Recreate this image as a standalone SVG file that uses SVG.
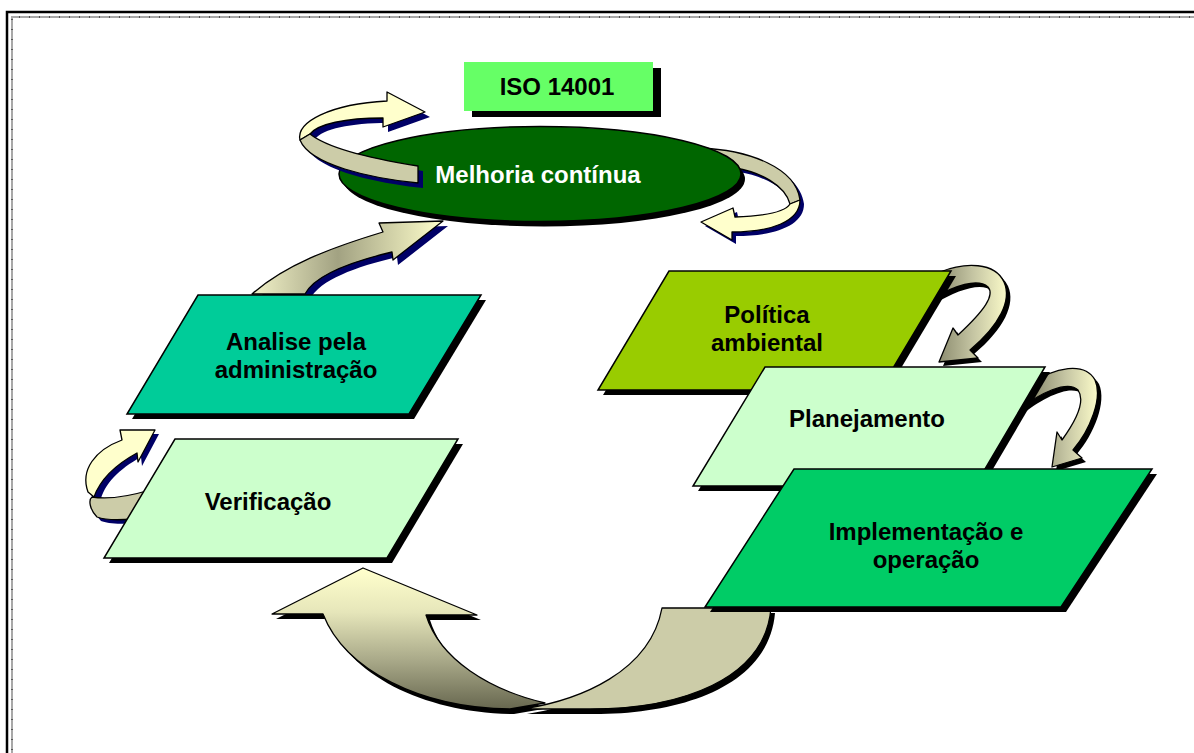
<svg xmlns="http://www.w3.org/2000/svg" width="1194" height="753" viewBox="0 0 1194 753">
  <defs>
    <style>
      .lbl { font-family: "Liberation Sans", Arial, sans-serif; font-weight: bold; font-size: 24px; text-anchor: middle; fill: #000; }
      .lbl-w { fill: #fff; }
      .box { stroke: #000; stroke-width: 1.5; stroke-linejoin: miter; }
      .shadow { fill: #000; }
      .navy { fill: #000066; }
      .edge { stroke: #000; stroke-width: 1.3; stroke-linejoin: round; }
      .tan { fill: #CCCCA8; }
      .cream { fill: #FFFFCC; }
    </style>
    <linearGradient id="gArrowUp" gradientUnits="userSpaceOnUse" x1="252" y1="0" x2="443" y2="0">
      <stop offset="0" stop-color="#F2F2C8"/>
      <stop offset="0.45" stop-color="#A2A282"/>
      <stop offset="1" stop-color="#FFFFCC"/>
    </linearGradient>
    <linearGradient id="gCurl1" gradientUnits="userSpaceOnUse" x1="935" y1="0" x2="1010" y2="0">
      <stop offset="0" stop-color="#86866A"/>
      <stop offset="0.5" stop-color="#C4C4A2"/>
      <stop offset="1" stop-color="#FFFFCC"/>
    </linearGradient>
    <linearGradient id="gCurl2" gradientUnits="userSpaceOnUse" x1="1030" y1="0" x2="1100" y2="0">
      <stop offset="0" stop-color="#86866A"/>
      <stop offset="0.5" stop-color="#C4C4A2"/>
      <stop offset="1" stop-color="#FFFFCC"/>
    </linearGradient>
    <linearGradient id="gReturn" gradientUnits="userSpaceOnUse" x1="0" y1="570" x2="0" y2="710">
      <stop offset="0" stop-color="#FFFFCC"/>
      <stop offset="0.3" stop-color="#E6E6BA"/>
      <stop offset="0.65" stop-color="#A8A888"/>
      <stop offset="1" stop-color="#66664E"/>
    </linearGradient>
  </defs>

  <rect x="0" y="0" width="1194" height="753" fill="#fff"/>

  <!-- page frame -->
  <g id="frame" fill="none">
    <path d="M7,760 V12 H1200" stroke="#000" stroke-width="2.5"/>
    <path d="M12,760 V17 H1200" stroke="#A8A8A8" stroke-width="2"/>
    <path d="M12,760 V17 H1200" stroke="#555" stroke-width="2" stroke-dasharray="1 9"/>
  </g>

  <g id="connectors">
    <!-- loop behind the ellipse, right side -->
    <g id="loop-right">
      <path class="navy" transform="translate(4,4)" d="M700,148 C750,150 796,168 800,200 C800,222 770,232 732,232 L732,240 L701,222 L733,208 L735,217 C765,216 785,212 790,204 C785,185 760,172 735,168 Z"/>
      <path class="tan edge" d="M700,148 C750,150 796,168 800,200 L790,204 C785,185 760,172 735,168 Z"/>
      <path class="cream edge" d="M790,204 C785,212 765,216 735,217 L733,208 L701,222 L732,240 L732,232 C770,232 800,222 800,200 Z"/>
    </g>
  </g>

  <!-- Melhoria contínua -->
  <g id="node-melhoria">
    <ellipse cx="544" cy="179" rx="201" ry="47.5" class="shadow"/>
    <ellipse cx="540" cy="174" rx="201" ry="47.5" fill="#006600" stroke="#000" stroke-width="1.5"/>
    <text x="538" y="183" class="lbl lbl-w">Melhoria contínua</text>
  </g>

  <g id="connectors-front">
    <!-- loop in front of the ellipse, left side -->
    <g id="loop-left">
      <path class="navy" transform="translate(5,5)" d="M300,140 C296,122 330,104 387,101 L387,92 L425,112 L383,127 L383,118 C345,118 318,124 310,134 C330,150 380,160 418,166 L418,183 C370,178 310,165 300,140 Z"/>
      <path class="cream edge" d="M300,140 C296,122 330,104 387,101 L387,92 L425,112 L383,127 L383,118 C345,118 318,124 310,134 Z"/>
      <path class="tan edge" d="M310,134 C330,150 380,160 418,166 L418,183 C370,178 310,165 300,140 Z"/>
    </g>
    <!-- Analise -> Melhoria -->
    <g id="arrow-analise-melhoria">
      <path class="navy" transform="translate(5,5)" d="M252,294 C285,265 330,248 383,232 L379,223 L443,221 L393,260 L392,252 C350,262 315,275 305,294 Z"/>
      <path fill="url(#gArrowUp)" class="edge" d="M252,294 C285,265 330,248 383,232 L379,223 L443,221 L393,260 L392,252 C350,262 315,275 305,294 Z"/>
    </g>
  </g>

  <!-- ISO 14001 -->
  <g id="node-iso">
    <rect x="472" y="68" width="189" height="49" class="shadow"/>
    <rect x="464" y="62" width="189" height="49" fill="#66FF66"/>
    <text x="557" y="95" class="lbl">ISO 14001</text>
  </g>

  <!-- Analise pela administração -->
  <g id="node-analise">
    <polygon class="shadow" points="203,300 486,300 414,419 132,419"/>
    <polygon class="box" fill="#00CC99" points="198,295 481,295 409,414 127,414"/>
    <text class="lbl"><tspan x="296" y="350">Analise pela</tspan><tspan x="296" y="378">administração</tspan></text>
  </g>

  <!-- Verificação -> Analise -->
  <g id="arrow-verificacao-analise">
    <path class="navy" transform="translate(4,4)" d="M88,492 C80,470 95,450 122,440 L120,430 L155,430 L138,462 L137,453 C115,465 100,480 96,498 C110,500 130,496 150,490 L150,515 C125,522 105,520 97,517 C90,510 88,500 88,492 Z"/>
    <path class="cream edge" d="M88,492 C80,470 95,450 122,440 L120,430 L155,430 L138,462 L137,453 C115,465 100,480 94,497 Z"/>
    <path class="tan edge" d="M92,497 C110,500 130,496 150,490 L150,515 C125,522 105,520 97,517 C90,510 88,500 92,497 Z"/>
  </g>

  <!-- Verificação -->
  <g id="node-verificacao">
    <polygon class="shadow" points="180,444 463,444 392,563 109,563"/>
    <polygon class="box" fill="#CCFFCC" points="175,439 458,439 387,558 104,558"/>
    <text x="268" y="510" class="lbl">Verificação</text>
  </g>

  <!-- Política -> Planejamento -->
  <g id="arrow-politica-planejamento">
    <path class="shadow" transform="translate(4,4)" d="M940,272 C965,262 995,262 1004,282 C1012,300 1000,325 970,350 L978,358 L939,362 L953,328 L958,335 C985,310 995,295 988,287 C978,278 955,285 930,300 Z"/>
    <path fill="url(#gCurl1)" class="edge" d="M940,272 C965,262 995,262 1004,282 C1012,300 1000,325 970,350 L978,358 L939,362 L953,328 L958,335 C985,310 995,295 988,287 C978,278 955,285 930,300 Z"/>
  </g>

  <!-- Política ambiental -->
  <g id="node-politica">
    <polygon class="shadow" points="674,276 956,276 885,395 603,395"/>
    <polygon class="box" fill="#99CC00" points="669,271 951,271 880,390 598,390"/>
    <text class="lbl"><tspan x="767" y="323">Política</tspan><tspan x="767" y="351">ambiental</tspan></text>
  </g>

  <!-- Planejamento -> Implementação -->
  <g id="arrow-planejamento-implementacao">
    <path class="shadow" transform="translate(4,4)" d="M1030,385 C1055,366 1085,362 1095,380 C1103,398 1090,430 1073,450 L1082,458 L1052,467 L1057,432 L1062,440 C1078,418 1085,400 1078,390 C1068,380 1040,392 1016,412 Z"/>
    <path fill="url(#gCurl2)" class="edge" d="M1030,385 C1055,366 1085,362 1095,380 C1103,398 1090,430 1073,450 L1082,458 L1052,467 L1057,432 L1062,440 C1078,418 1085,400 1078,390 C1068,380 1040,392 1016,412 Z"/>
  </g>

  <!-- Planejamento -->
  <g id="node-planejamento">
    <polygon class="shadow" points="770,372 1050,372 980,491 698,491"/>
    <polygon class="box" fill="#CCFFCC" points="765,367 1045,367 975,486 693,486"/>
    <text x="867" y="427" class="lbl">Planejamento</text>
  </g>

  <!-- Implementação -> Verificação (return arrow) -->
  <g id="arrow-implementacao-verificacao">
    <g class="shadow" transform="translate(4,5)">
      <path d="M323,614 C345,670 420,708 510,709 L545,703 C490,690 440,660 426,615 L477,615 L363,568 L272,614 Z"/>
      <path d="M771,608 C765,680 680,709 590,709 L523,709 C580,700 650,672 662,608 Z"/>
    </g>
    <path fill="url(#gReturn)" class="edge" d="M323,614 C345,670 420,708 510,709 L545,703 C490,690 440,660 426,615 L477,615 L363,568 L272,614 Z"/>
    <path class="tan edge" d="M771,608 C765,680 680,709 590,709 L523,709 C580,700 650,672 662,608 Z"/>
  </g>

  <!-- Implementação e operação -->
  <g id="node-implementacao">
    <polygon class="shadow" points="799,474 1157,474 1066,612 710,612"/>
    <polygon class="box" fill="#00CC66" points="794,469 1152,469 1061,607 705,607"/>
    <text class="lbl"><tspan x="926" y="540">Implementação e</tspan><tspan x="926" y="568">operação</tspan></text>
  </g>
</svg>
